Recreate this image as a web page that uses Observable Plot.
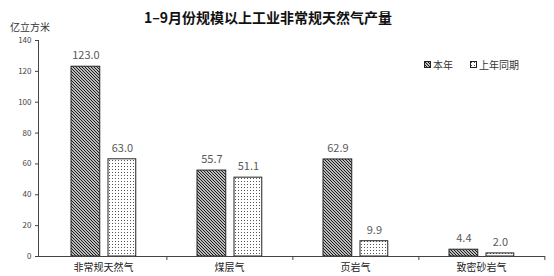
<!DOCTYPE html>
<html><head><meta charset="utf-8">
<script src="https://cdn.jsdelivr.net/npm/d3@7"></script>
<script src="https://cdn.jsdelivr.net/npm/@observablehq/plot@0.6"></script>
<style>
body{margin:0;background:#fff;font-family:"Noto Sans CJK SC",sans-serif;}
#wrap{position:relative;width:554px;height:276px;}
#title{position:absolute;left:0;width:536px;top:7px;text-align:center;font-size:14px;font-weight:700;color:#111;}
#unit{position:absolute;left:10px;top:19px;font-size:10px;color:#333;}
#legend{position:absolute;left:424px;top:57px;font-size:10px;color:#333;display:flex;gap:17px;align-items:center;}
#legend span{display:inline-flex;align-items:center;gap:2px;}
#chart{position:absolute;left:0;top:0;}
</style></head>
<body>
<div id="wrap">
<div id="chart"></div>
<div id="title">1–9月份规模以上工业非常规天然气产量</div>
<div id="unit">亿立方米</div>
<div id="legend"></div>
</div>
<script>
const categories = ["非常规天然气","煤层气","页岩气","致密砂岩气"];
const series = ["本年","上年同期"];
const thisYear = [123.0, 55.7, 62.9, 4.4];
const lastYear = [63.0, 51.1, 9.9, 2.0];
const yTicks = [0,20,40,60,80,100,120,140];

const rowsA = categories.map((c,i)=>({cat:c, s:series[0], v:thisYear[i]}));
const rowsB = categories.map((c,i)=>({cat:c, s:series[1], v:lastYear[i]}));

const defsHTML = `
<pattern id="hatch" patternUnits="userSpaceOnUse" width="3" height="3">
  <rect width="3" height="3" fill="#fff"/>
  <path d="M-1,-1 L4,4 M-1,2 L1,4 M2,-1 L4,1" stroke="#111" stroke-width="1.1"/>
</pattern>
<pattern id="dots" patternUnits="userSpaceOnUse" width="3" height="3">
  <rect width="3" height="3" fill="#fff"/>
  <rect x="1" y="1" width="1" height="1" fill="#555"/>
</pattern>`;

const W = 554, ML = 38, MR = 9;
const step = (W - ML - MR) / categories.length;

const plot = Plot.plot({
  width: W, height: 276,
  marginLeft: ML, marginRight: MR, marginTop: 40, marginBottom: 20,
  style: {fontFamily: '"Noto Sans CJK SC", sans-serif', fontSize: "10px", color: "#333", background: "#fff"},
  x: {domain: categories, padding: 0, label: null},
  y: {domain: [0, 140], label: null},
  marks: [
    () => { const g = d3.create("svg:defs"); g.html(defsHTML); return g.node(); },
    Plot.barY(rowsA, {x: "cat", y: "v", fill: "url(#hatch)", stroke: "#222", strokeWidth: 1,
      insetLeft: 31, insetRight: step - 60.5}),
    Plot.barY(rowsB, {x: "cat", y: "v", fill: "url(#dots)", stroke: "#222", strokeWidth: 1,
      insetLeft: 68, insetRight: step - 96.5}),
    Plot.text(rowsA, {x: "cat", y: "v", text: d => d.v.toFixed(1), dx: -17.6, dy: -11, fill: "#595959", fontSize: 11}),
    Plot.text(rowsB, {x: "cat", y: "v", text: d => d.v.toFixed(1), dx: 18.9, dy: -11, fill: "#595959", fontSize: 11}),
    Plot.axisY({ticks: yTicks, tickSize: 3, tickPadding: 4, fontSize: 8, fill: "#444", stroke: "#444"}),
    Plot.frame({anchor: "left", stroke: "#444"}),
    Plot.ruleY([0], {stroke: "#444"}),
    Plot.axisX({tickSize: 0, tickPadding: 7, fontSize: 10, fill: "#222"}),
    Plot.axisX({tickSize: 4, text: null, dx: step / 2, stroke: "#444"})
  ]
});
document.getElementById("chart").appendChild(plot);

const leg = document.getElementById("legend");
leg.innerHTML = `
<span><svg width="7" height="7"><rect x="0.5" y="0.5" width="6" height="6" fill="url(#hatch)" stroke="#222"/></svg>${series[0]}</span>
<span><svg width="7" height="7"><rect x="0.5" y="0.5" width="6" height="6" fill="url(#dots)" stroke="#222"/></svg>${series[1]}</span>`;
</script>
</body></html>
